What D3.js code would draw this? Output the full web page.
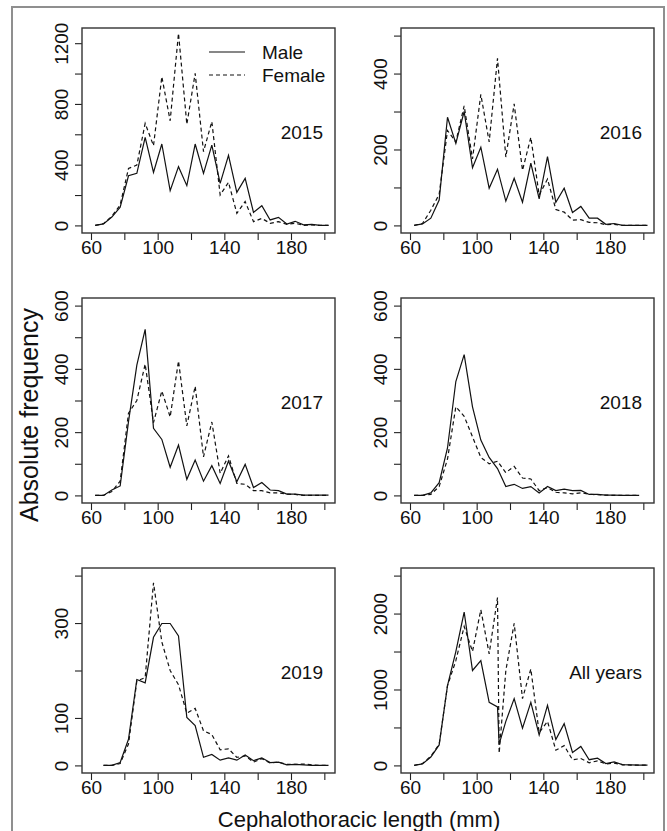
<!DOCTYPE html>
<html><head><meta charset="utf-8">
<script src="https://cdn.jsdelivr.net/npm/d3@7"></script>
<style>
body{margin:0;background:#fff}
svg{display:block}
text{font-family:"Liberation Sans",Arial,Helvetica,sans-serif;fill:#111}
</style></head>
<body><svg id="c" width="667" height="831"></svg>
<script>
// ---- data (cephalothoracic length bin mid-points, mm) ----
const bins = [62.5,67.5,72.5,77.5,82.5,87.5,92.5,97.5,102.5,107.5,112.5,117.5,122.5,127.5,132.5,137.5,142.5,147.5,152.5,157.5,162.5,167.5,172.5,177.5,182.5,187.5,192.5,197.5,202.5];
const bins2019 = [67.5,72.5,77.5,82.5,87.5,92.5,97.5,102.5,107.5,112.5,117.5,122.5,127.5,132.5,137.5,142.5,147.5,152.5,157.5,162.5,167.5,172.5,177.5,182.5,187.5,192.5,197.5,202.5];
const binsAll = [62.5,67.5,72.5,77.5,82.5,87.5,92.5,97.5,102.5,107.5,112.5,113.5,117.5,122.5,127.5,132.5,137.5,142.5,147.5,152.5,157.5,162.5,167.5,172.5,177.5,182.5,187.5,192.5,197.5,202.5];

const male2015   = [0,10,55,120,327,343,580,349,536,229,387,262,536,343,529,277,461,218,310,86,130,36,53,9,27,4,7,0,0];
const female2015 = [0,12,60,135,375,397,672,525,979,689,1265,666,1001,486,684,200,284,80,157,25,46,14,25,7,14,0,3,0,0];
const male2016   = [0,4,19,67,285,216,300,152,206,98,148,64,124,61,164,70,181,61,98,34,50,19,19,3,5,0,0,0,0];
const female2016 = [0,5,40,82,250,220,315,175,345,220,440,180,320,145,232,80,122,42,35,14,15,8,7,2,3,0,0,0,0];
const male2017   = [0,0,17,30,233,412,525,212,177,89,159,51,112,45,94,38,109,43,98,25,41,17,15,4,4,1,1,1,1];
const female2017 = [0,0,12,45,260,300,415,230,330,248,425,220,345,122,232,70,125,38,35,15,15,8,8,4,3,0,0,0,0];
const male2018   = [0,0,8,40,150,360,445,280,175,120,85,28,35,22,28,8,28,15,20,15,16,3,3,1,1,0,0,0];
const female2018 = [0,0,3,28,115,280,250,185,120,100,108,72,92,55,52,15,25,10,8,5,8,4,2,1,0,0,0,0];
const male2019   = [0,0,6,55,181,174,270,299,299,273,101,84,17,23,11,16,11,22,10,16,6,7,1,2,1,0,0,0];
const female2019 = [0,0,4,45,178,185,385,260,200,170,110,120,73,65,33,35,17,20,7,14,5,7,2,2,3,1,0,0];
const maleAll    = [0,20,110,270,1050,1500,2020,1250,1380,830,770,280,580,880,490,830,400,790,340,550,170,250,75,95,25,45,10,8,5,3];
const femaleAll  = [0,25,120,280,1050,1380,1830,1500,2050,1470,2210,160,1250,1870,880,1270,430,580,200,260,75,90,35,60,20,30,8,5,3,3];

// x ticks / labels shared by all panels
const xTicks  = [60,80,100,120,140,160,180,200];
const xLabels = [60,100,140,180];

// y ticks, labels and axis limits per panel
const yTicks2015 = [0,200,400,600,800,1000,1200];   const yLabels2015 = [0,400,800,1200];   const yMax2015 = 1250;
const yTicks2016 = [0,100,200,300,400,500];         const yLabels2016 = [0,200,400];        const yMax2016 = 500;
const yTicks2017 = [0,100,200,300,400,500,600];     const yLabels2017 = [0,200,400,600];    const yMax2017 = 600;
const yTicks2018 = [0,100,200,300,400,500,600];     const yLabels2018 = [0,200,400,600];    const yMax2018 = 600;
const yTicks2019 = [0,100,200,300,400];             const yLabels2019 = [0,100,300];        const yMax2019 = 400;
const yTicksAll  = [0,500,1000,1500,2000,2500];     const yLabelsAll  = [0,1000,2000];      const yMaxAll  = 2500;

const panelNames = ["2015","2016","2017","2018","2019","All years"];
const legendLabels = ["Male","Female"];
const xTitle = "Cephalothoracic length (mm)";
const yTitle = "Absolute frequency";

// ---- assemble ----
const panels = [
  {name:panelNames[0], x:bins,     m:male2015, f:female2015, yt:yTicks2015, yl:yLabels2015, ymax:yMax2015},
  {name:panelNames[1], x:bins,     m:male2016, f:female2016, yt:yTicks2016, yl:yLabels2016, ymax:yMax2016},
  {name:panelNames[2], x:bins,     m:male2017, f:female2017, yt:yTicks2017, yl:yLabels2017, ymax:yMax2017},
  {name:panelNames[3], x:bins.slice(0,28), m:male2018, f:female2018, yt:yTicks2018, yl:yLabels2018, ymax:yMax2018},
  {name:panelNames[4], x:bins2019, m:male2019, f:female2019, yt:yTicks2019, yl:yLabels2019, ymax:yMax2019},
  {name:panelNames[5], x:binsAll,  m:maleAll,  f:femaleAll,  yt:yTicksAll,  yl:yLabelsAll,  ymax:yMaxAll}
];

const svg = d3.select("#c");
const W = 253, H = 205;
const colX = [82, 401], rowY = [28, 298, 568];
const FONT = 19;

// outer frame
svg.append("rect").attr("x",12).attr("y",7).attr("width",652).attr("height",840)
  .attr("fill","none").attr("stroke","#8f8f8f").attr("stroke-width",2);

panels.forEach((p,i)=>{
  const x0 = colX[i%2], y0 = rowY[Math.floor(i/2)];
  const g = svg.append("g").attr("transform",`translate(${x0},${y0})`);
  const x = d3.scaleLinear().domain([54.6,206.4]).range([0,W]);
  const y = d3.scaleLinear().domain([-0.04*p.ymax, 1.04*p.ymax]).range([H,0]);

  const clipId = "clip"+i;
  g.append("clipPath").attr("id",clipId).append("rect").attr("width",W).attr("height",H);

  // x axis
  const xa = g.append("g").attr("transform",`translate(0,${H})`)
    .call(d3.axisBottom(x).tickValues(xTicks).tickSize(7).tickSizeOuter(0).tickPadding(1)
      .tickFormat(d=> xLabels.includes(d) ? d : ""));
  xa.select(".domain").remove();
  xa.selectAll("line").attr("stroke","#222").attr("stroke-width",1.1);
  xa.selectAll("text").attr("font-size",FONT).attr("fill","#111").style("font-family",'"Liberation Sans",Arial,sans-serif');

  // y axis
  const ya = g.append("g")
    .call(d3.axisLeft(y).tickValues(p.yt).tickSize(7).tickSizeOuter(0)
      .tickFormat(d=> p.yl.includes(d) ? d : ""));
  ya.select(".domain").remove();
  ya.selectAll("line").attr("stroke","#222").attr("stroke-width",1.1);
  ya.selectAll("text").attr("font-size",FONT).attr("fill","#111").style("font-family",'"Liberation Sans",Arial,sans-serif')
    .attr("transform","rotate(-90)").attr("x",0).attr("y",-14).attr("dy",0).attr("text-anchor","middle");

  // lines
  const line = d3.line().x(d=>x(d[0])).y(d=>y(d[1]));
  const gl = g.append("g").attr("clip-path",`url(#${clipId})`);
  gl.append("path").datum(p.x.map((v,k)=>[v,p.f[k]])).attr("d",line)
    .attr("fill","none").attr("stroke","#111").attr("stroke-width",1.2).attr("stroke-dasharray","4,3");
  gl.append("path").datum(p.x.map((v,k)=>[v,p.m[k]])).attr("d",line)
    .attr("fill","none").attr("stroke","#111").attr("stroke-width",1.2);

  // box
  g.append("rect").attr("width",W).attr("height",H).attr("fill","none")
    .attr("stroke","#333").attr("stroke-width",1.4);

  // panel label
  g.append("text").attr("x",W-12).attr("y",111).attr("text-anchor","end")
    .attr("font-size",FONT).text(p.name);

  // legend in first panel
  if(i===0){
    const leg = g.append("g");
    [0,1].forEach(k=>{
      const ly = 24 + k*23;
      leg.append("line").attr("x1",209-x0).attr("x2",245-x0).attr("y1",ly).attr("y2",ly)
        .attr("stroke","#111").attr("stroke-width",1.2).attr("stroke-dasharray", k? "4,3": null);
      leg.append("text").attr("x",262-x0).attr("y",ly+6.5).attr("font-size",FONT).text(legendLabels[k]);
    });
  }
});

// axis titles
svg.append("text").attr("x",359).attr("y",827).attr("text-anchor","middle")
  .attr("font-size",22).text(xTitle);
svg.append("text").attr("transform","translate(38,415) rotate(-90)").attr("text-anchor","middle")
  .attr("font-size",25).text(yTitle);
</script>
</body></html>
